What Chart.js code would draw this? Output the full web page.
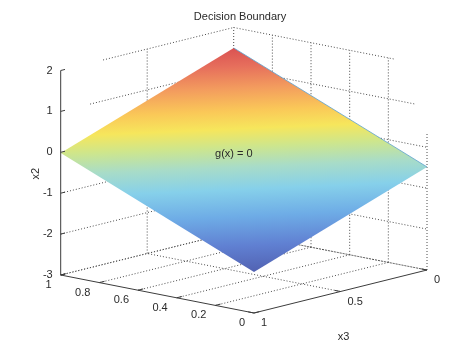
<!DOCTYPE html>
<html>
<head>
<meta charset="utf-8">
<script src="https://cdn.jsdelivr.net/npm/chart.js@4.4.1/dist/chart.umd.min.js"></script>
<style>
  html, body { margin: 0; padding: 0; background: #fff; }
  #wrap { width: 470px; height: 352px; position: relative; }
</style>
</head>
<body>
<div id="wrap"><canvas id="boundary"></canvas></div>
<script>
// tick values and labels
const x1Ticks = [0, 0.2, 0.4, 0.6, 0.8, 1];
const x1TickLabels = ["0", "0.2", "0.4", "0.6", "0.8", "1"];
const x3Ticks = [0, 0.5, 1];
const x3TickLabels = ["0", "0.5", "1"];
const x2Ticks = [-3, -2, -1, 0, 1, 2];
const x2TickLabels = ["-3", "-2", "-1", "0", "1", "2"];

// decision surface g(x) = 0, corner values (rows: x1, cols: x3)
const x1Grid = [0, 1];
const x3Grid = [0, 1];
const x2Surface = [
  [-0.48, -2.0],
  [1.5, -0.02],
];

// jet-like colours along x2 (low -> high), washed a bit like the mesh
const surfaceColors = [
  [0.0, "rgb(82,98,178)"],
  [0.12, "rgb(96,128,210)"],
  [0.25, "rgb(110,172,230)"],
  [0.37, "rgb(134,208,234)"],
  [0.47, "rgb(168,220,200)"],
  [0.56, "rgb(206,230,140)"],
  [0.64, "rgb(246,230,92)"],
  [0.72, "rgb(250,200,88)"],
  [0.82, "rgb(243,156,94)"],
  [0.92, "rgb(230,110,92)"],
  [1.0, "rgb(218,82,82)"],
];

// 3d view -> page coordinates
function project(x1, x3, x2) {
  return {
    x: 254 - 193.3 * x1 + 173 * (1 - x3),
    y: 313 - 38 * x1 - 43 * (1 - x3) - 40.9 * (x2 + 3),
  };
}

// grid lines get cut off near the top corners, like the original
function clipLeft(z) {
  return Math.min(1, 0.755 + 0.075 * (2 - z));
}
function clipRight(z) {
  return Math.max(0, 0.166 - 0.1 * (2 - z));
}

const zMin = x2Ticks[0];
const zMax = x2Ticks[x2Ticks.length - 1];

function seg(a, b) {
  return [project(a[0], a[1], a[2]), project(b[0], b[1], b[2])];
}

function gridLines() {
  const lines = [];
  // back wall x1 = 1
  x2Ticks.forEach((z) => lines.push(seg([1, clipLeft(z), z], [1, 0, z])));
  x3Ticks.filter((t) => t < 1).forEach((t) => lines.push(seg([1, t, zMin], [1, t, zMax])));
  // back wall x3 = 0
  x2Ticks.forEach((z) => lines.push(seg([1, 0, z], [clipRight(z), 0, z])));
  x1Ticks.filter((t) => t < 1).forEach((t) => {
    const top = t < 0.166 ? zMax - (0.166 - t) / 0.1 : zMax;
    lines.push(seg([t, 0, zMin], [t, 0, top]));
  });
  // floor
  x3Ticks.filter((t) => t < 1).forEach((t) => lines.push(seg([0, t, zMin], [1, t, zMin])));
  x1Ticks.filter((t) => t > 0).forEach((t) => lines.push(seg([t, 0, zMin], [t, 1, zMin])));
  return lines;
}

function axisLines() {
  const lines = [];
  lines.push(seg([1, 1, zMin], [1, 1, zMax]));
  lines.push(seg([1, 1, zMin], [0, 1, zMin]));
  lines.push(seg([0, 1, zMin], [0, 0, zMin]));
  x2Ticks.forEach((z) => lines.push(seg([1, 1, z], [1, 0.975, z])));
  x1Ticks.forEach((t) => lines.push(seg([t, 1, zMin], [t, 0.97, zMin])));
  x3Ticks.forEach((t) => lines.push(seg([0, t, zMin], [0.03, t, zMin])));
  return lines;
}

function surfacePoints() {
  const idx = [[0, 0], [1, 0], [1, 1], [0, 1], [0, 0]];
  return idx.map(([i, j]) => project(x1Grid[i], x3Grid[j], x2Surface[i][j]));
}

// thin bluish rim along the far edge (x3 = 0)
function surfaceRim() {
  return [0, 1].map((i) => project(x1Grid[i], x3Grid[0], x2Surface[i][0]));
}

function surfaceGradient(context) {
  const chart = context.chart;
  if (!chart.chartArea) return "#a6d6b4";
  const sx = chart.scales.x;
  const sy = chart.scales.y;
  const pix = (i, j) => {
    const p = project(x1Grid[i], x3Grid[j], x2Surface[i][j]);
    return [sx.getPixelForValue(p.x), sy.getPixelForValue(p.y)];
  };
  const za = x2Surface[0][0], zb = x2Surface[1][0], zc = x2Surface[0][1];
  const a = pix(0, 0), b = pix(1, 0), c = pix(0, 1);
  const dxb = b[0] - a[0], dyb = b[1] - a[1];
  const dxc = c[0] - a[0], dyc = c[1] - a[1];
  const det = dxb * dyc - dxc * dyb;
  const gx = ((zb - za) * dyc - (zc - za) * dyb) / det;
  const gy = (dxb * (zc - za) - dxc * (zb - za)) / det;
  const g2 = gx * gx + gy * gy;
  const all = x2Surface.flat();
  const lo = Math.min(...all), hi = Math.max(...all);
  const s = (lo - za) / g2, e = (hi - za) / g2;
  const grad = chart.ctx.createLinearGradient(a[0] + gx * s, a[1] + gy * s, a[0] + gx * e, a[1] + gy * e);
  surfaceColors.forEach(([t, col]) => grad.addColorStop(t, col));
  return grad;
}

const FONT = "'Liberation Sans', Arial, Helvetica, sans-serif";

const labelPlugin = {
  id: "labels3d",
  afterDraw(chart) {
    const ctx = chart.ctx;
    const sx = chart.scales.x;
    const sy = chart.scales.y;
    const at = (x1, x3, x2) => {
      const p = project(x1, x3, x2);
      return [sx.getPixelForValue(p.x), sy.getPixelForValue(p.y)];
    };
    ctx.save();
    ctx.fillStyle = "#2a2a2a";
    ctx.font = "11px " + FONT;
    ctx.textBaseline = "middle";

    ctx.textAlign = "right";
    x2Ticks.forEach((z, i) => {
      const [px, py] = at(1, 1, z);
      ctx.fillText(x2TickLabels[i], px - 8, py);
    });
    x1Ticks.forEach((t, i) => {
      const [px, py] = at(t, 1, zMin);
      ctx.fillText(x1TickLabels[i], px - 9, py + 10);
    });
    ctx.textAlign = "left";
    x3Ticks.forEach((t, i) => {
      const [px, py] = at(0, t, zMin);
      ctx.fillText(x3TickLabels[i], px + 7, py + 10);
    });

    // axis labels
    ctx.textAlign = "center";
    const [lx, ly] = at(0, 0.5, zMin);
    ctx.fillText("x3", lx + 3, ly + 45);
    const [zx, zy] = at(1, 1, -0.5);
    ctx.save();
    ctx.translate(zx - 25, zy + 1);
    ctx.rotate(-Math.PI / 2);
    ctx.fillText("x2", 0, 0);
    ctx.restore();

    // surface annotation
    const [gx, gy] = at(0.48, 0.58, 0);
    ctx.fillText("g(x) = 0", gx, gy);

    // title
    ctx.fillText("Decision Boundary", chart.width / 2 + 5, 17);
    ctx.restore();
  },
};

function lineSet(points, opts) {
  return Object.assign(
    {
      data: points,
      showLine: true,
      pointRadius: 0,
      borderWidth: 1,
      fill: false,
    },
    opts
  );
}

init();

function init() {
  const datasets = [];
  axisLines().forEach((l) => datasets.push(lineSet(l, { borderColor: "#3c3c3c", order: 1 })));
  datasets.push(lineSet(surfaceRim(), { borderColor: "rgba(90,160,205,0.8)", order: 1 }));
  datasets.push(
    lineSet(surfacePoints(), {
      order: 2,
      borderWidth: 0,
      borderColor: "rgba(0,0,0,0)",
      fill: "shape",
      backgroundColor: surfaceGradient,
    })
  );
  gridLines().forEach((l) =>
    datasets.push(lineSet(l, { borderColor: "#4a4a4a", borderDash: [1, 2], order: 3 }))
  );

  new Chart(document.getElementById("boundary"), {
    type: "scatter",
    data: { datasets },
    options: {
      responsive: true,
      maintainAspectRatio: false,
      animation: false,
      layout: { padding: 0 },
      plugins: {
        legend: { display: false },
        tooltip: { enabled: false },
        title: { display: false },
      },
      scales: {
        x: { type: "linear", display: false, min: 0, max: 470 },
        y: { type: "linear", display: false, min: 0, max: 352, reverse: true },
      },
    },
    plugins: [labelPlugin],
  });
}
</script>
</body>
</html>
